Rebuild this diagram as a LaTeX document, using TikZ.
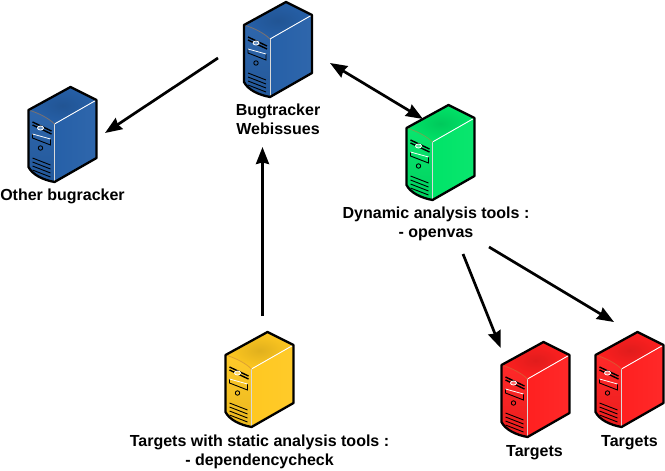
\documentclass[tikz,border=0pt]{standalone}
\usepackage{xcolor}
\usepackage{fontspec}
\setmainfont{Liberation Sans}
\definecolor{cBlue}{HTML}{2660A8}
\definecolor{cGreen}{HTML}{00E468}
\definecolor{cYellow}{HTML}{FFC821}
\definecolor{cRed}{HTML}{FF2020}
\usetikzlibrary{positioning,arrows.meta}
\tikzset{
  node-server/.style={minimum width=68pt,minimum height=95pt,inner sep=0pt},
  node-label/.style={align=center,font=\fontsize{16}{19}\selectfont\bfseries,inner sep=0pt},
  arrow/.style={-{Stealth[length=17pt,width=13pt,inset=1.5pt]},line width=2.7pt,draw=black},
  arrow-both/.style={{Stealth[length=17pt,width=13pt,inset=1.5pt]}-{Stealth[length=17pt,width=13pt,inset=1.5pt]},line width=2.7pt,draw=black},
  pics/server/.style={code={
    % origin is the node centre, the box is 68 x 95
    \begin{scope}[shift={(-34,-47.5)}]
      \shade[inner color=#1!88!black,outer color=#1] (0,23) -- (42,0) -- (68,13) -- (26,37) -- cycle;
      \shade[left color=#1,middle color=#1!94!black,right color=#1!96!white] (26,37) -- (68,13) -- (68,71) -- (26,95) -- cycle;
      \shade[top color=#1!96!white,bottom color=#1!92!black] (0,23) .. controls (10,26) and (20,31) .. (26,37) -- (26,95) .. controls (15,93) and (4,88) .. (0,80) -- cycle;
      \draw[white,line width=0.9pt] (26,37) -- (68,13);
      \draw[white!85!black,line width=0.9pt] (26,37) -- (26,95);
      \draw[#1!45!brown,line width=0.8pt] (0,23) .. controls (10,26) and (20,31) .. (26,37);
      \draw[line width=1.4pt] (4,35) -- (23,44) (4,38) -- (23,47);
      \draw[white,line width=0.8pt,fill=#1!70!white] (12,41) ellipse (3pt and 2pt);
      \draw[black,line width=0.9pt] (4,47) -- (4,51) -- (22,58) -- (22,52);
      \draw[white,line width=0.8pt] (4,47) -- (22,52);
      \draw[line width=0.9pt] (12,61) circle (2.2pt);
      \foreach \v in {71,75,79,83} {
        \draw[line width=0.9pt] (4,\v) -- (22,\v+7);
      }
      \draw[line width=2.3pt,line join=round] (42,0) -- (68,13) -- (68,71) -- (26,95) .. controls (15,93) and (4,88) .. (0,80) -- (0,23) -- cycle;
    \end{scope}
  }},
}
\begin{document}
\begin{tikzpicture}[x=1pt,y=-1pt]
  \useasboundingbox (0,0) rectangle (665,471);

  \node[node-server] (web) at (278,49.5) {};
  \node[node-server] (other) at (62.5,134.5) {};
  \node[node-server] (dynamic) at (440.5,152.5) {};
  \node[node-server] (static) at (259.5,379.5) {};
  \node[node-server] (target-a) at (535.5,389.5) {};
  \node[node-server] (target-b) at (629.5,379.5) {};

  \pic at (web) {server=cBlue};
  \pic at (other) {server=cBlue};
  \pic at (dynamic) {server=cGreen};
  \pic at (static) {server=cYellow};
  \pic at (target-a) {server=cRed};
  \pic at (target-b) {server=cRed};

  \node[node-label,below=7pt of web] (web-label) {Bugtracker\\Webissues};
  \node[node-label,below=7pt of other] (other-label) {Other bugracker};
  \node[node-label,below=6.5pt of dynamic,xshift=-4.5pt] (dynamic-label) {Dynamic analysis tools :\\- openvas};
  \node[node-label,below=8pt of static] (static-label) {Targets with static analysis tools :\\- dependencycheck};
  \node[node-label,below=8pt of target-a,xshift=-1pt] (target-a-label) {Targets};
  \node[node-label,below=8pt of target-b] (target-b-label) {Targets};

  \coordinate (web-out) at (218,58);
  \coordinate (other-in) at (105,133);
  \coordinate (static-out) at (262.5,316);
  \coordinate (web-in) at (262.5,147);
  \coordinate (web-right) at (330,63);
  \coordinate (dynamic-in) at (423,119);
  \coordinate (dynamic-out-a) at (463,254);
  \coordinate (target-a-in) at (500.7,348);
  \coordinate (dynamic-out-b) at (489,247);
  \coordinate (target-b-in) at (614,322);

  \draw[arrow] (web-out) -- (other-in);
  \draw[arrow] (static-out) -- (web-in);
  \draw[arrow-both] (web-right) -- (dynamic-in);
  \draw[arrow] (dynamic-out-a) -- (target-a-in);
  \draw[arrow] (dynamic-out-b) -- (target-b-in);
\end{tikzpicture}
\end{document}
